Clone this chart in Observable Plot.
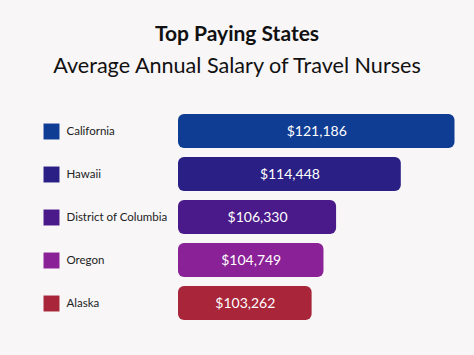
<!DOCTYPE html>
<html><head><meta charset="utf-8">
<script src="https://cdn.jsdelivr.net/npm/d3@7"></script>
<script src="https://cdn.jsdelivr.net/npm/@observablehq/plot@0.6"></script>
<style>
body{margin:0;background:#f8f6f7;width:474px;height:355px;overflow:hidden;font-family:Lato,sans-serif}
#head{position:relative;height:100px}
.t{position:absolute;left:0;width:474px;text-align:center;color:#111;white-space:nowrap;line-height:24px}
#title{top:21px;font-size:21px;font-weight:700}
#sub{top:53px;font-size:21.6px;font-weight:400}
#chart svg{display:block}
</style>
</head><body>
<div id="head"><div class="t" id="title">Top Paying States</div><div class="t" id="sub">Average Annual Salary of Travel Nurses</div></div>
<div id="chart"></div>
<script>
const states = ["California", "Hawaii", "District of Columbia", "Oregon", "Alaska"];
const salaries = [121186, 114448, 106330, 104749, 103262];
const colors = ["#0f3d94", "#2a1f85", "#4a1a8a", "#8a2196", "#a9263a"];
const xStart = 86500;

const data = states.map((s, i) => ({state: s, salary: salaries[i]}));
const fmt = d3.format(",");

const chart = Plot.plot({
  width: 474, height: 255,
  marginLeft: 178, marginRight: 13, marginTop: 9, marginBottom: 31,
  x: {domain: [xStart, 122000], axis: null},
  y: {domain: states, axis: null, paddingInner: 0.22, paddingOuter: 0.1},
  color: {domain: states, range: colors},
  style: {background: "transparent", fontFamily: "Lato, sans-serif"},
  marks: [
    Plot.barX(data, {x1: () => xStart, x2: "salary", y: "state", fill: "state", rx: 6}),
    Plot.text(data, {x: d => (xStart + d.salary) / 2, y: "state", text: d => "$" + fmt(d.salary), fill: "white", fontSize: 14}),
    Plot.dot(data, {y: "state", frameAnchor: "left", dx: -127, symbol: "square", r: 9, fill: "state"}),
    Plot.text(data, {y: "state", frameAnchor: "left", dx: -112, text: "state", textAnchor: "start", fontSize: 11.5, fill: "#222"})
  ]
});
document.getElementById("chart").appendChild(chart);
</script>
</body></html>
